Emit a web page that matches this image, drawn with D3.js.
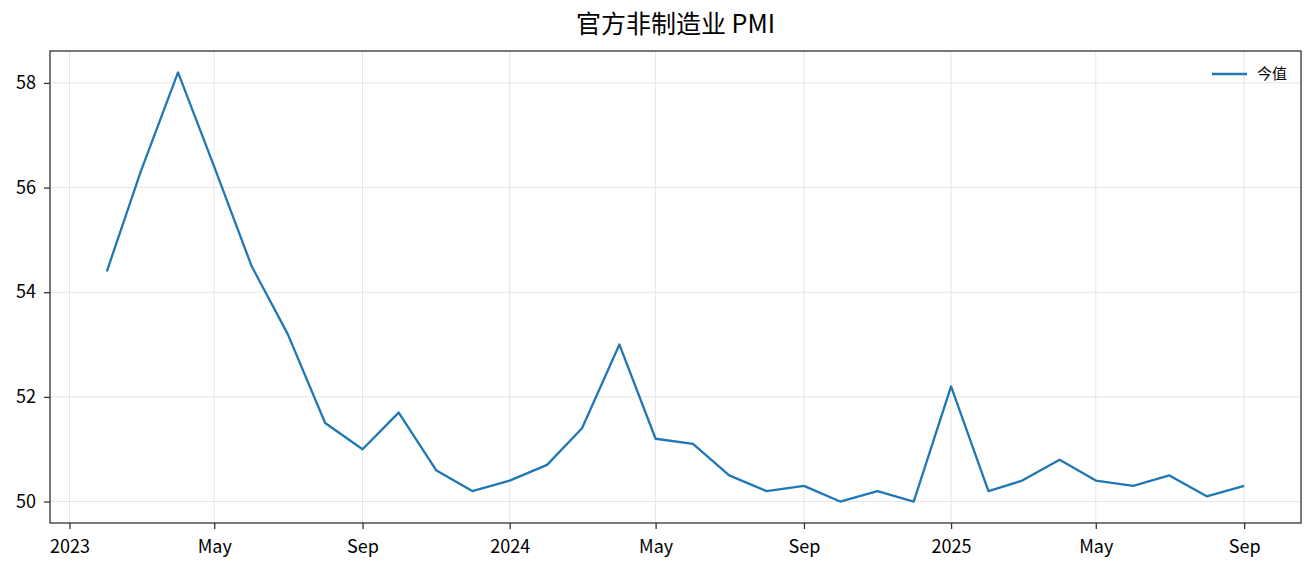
<!DOCTYPE html>
<html lang="zh">
  <head>
    <meta charset="utf-8">
    <title>官方非制造业 PMI</title>
    <script src="https://d3js.org/d3.v7.min.js"></script>
    <style>
      html, body { margin: 0; padding: 0; background: #fff; overflow: hidden; }
      svg { display: block; }
      text { font-family: "Noto Sans CJK SC", "Noto Sans", sans-serif; fill: #000; }
    </style>
  </head>
  <body>
    <script type="text/javascript">
      var w = 1315;
      var h = 573;
      var margin = {top: 51, right: 14, bottom: 50, left: 50};
      var innerWidth = w - margin.left - margin.right;
      var innerHeight = h - margin.top - margin.bottom;

      // release dates (1st of month) and values
      var months = ["2023-02","2023-03","2023-04","2023-05","2023-06","2023-07","2023-08","2023-09",
                    "2023-10","2023-11","2023-12","2024-01","2024-02","2024-03","2024-04","2024-05",
                    "2024-06","2024-07","2024-08","2024-09","2024-10","2024-11","2024-12","2025-01",
                    "2025-02","2025-03","2025-04","2025-05","2025-06","2025-07","2025-08","2025-09"];
      var values = [54.4, 56.3, 58.2, 56.4, 54.5, 53.2, 51.5, 51.0,
                    51.7, 50.6, 50.2, 50.4, 50.7, 51.4, 53.0, 51.2,
                    51.1, 50.5, 50.2, 50.3, 50.0, 50.2, 50.0, 52.2,
                    50.2, 50.4, 50.8, 50.4, 50.3, 50.5, 50.1, 50.3];
      var yTicks = [50, 52, 54, 56, 58];
      var xTicks = ["2023-01","2023-05","2023-09","2024-01","2024-05","2024-09","2025-01","2025-05","2025-09"];
      var xTickLabels = ["2023","May","Sep","2024","May","Sep","2025","May","Sep"];
      var seriesName = "今值";
      var title = "官方非制造业 PMI";

      var parse = d3.timeParse("%Y-%m");
      var data = months.map(function(m, i) { return {date: parse(m), value: values[i]}; });

      var xExt = d3.extent(data, function(d) { return d.date; });
      var xPad = (xExt[1] - xExt[0]) * 0.05;
      var xScale = d3.scaleTime()
          .domain([new Date(+xExt[0] - xPad), new Date(+xExt[1] + xPad)])
          .range([0, innerWidth]);
      var yExt = d3.extent(values);
      var yPad = (yExt[1] - yExt[0]) * 0.05;
      var yScale = d3.scaleLinear()
          .domain([yExt[0] - yPad, yExt[1] + yPad])
          .range([innerHeight, 0]);

      var svg = d3.select("body").append("svg")
          .attr("width", w)
          .attr("height", h);

      var g = svg.append("g")
          .attr("transform", `translate(${margin.left},${margin.top})`);

      // grid
      g.selectAll(".vgrid").data(xTicks).enter().append("line")
          .attr("x1", function(d) { return xScale(parse(d)); })
          .attr("x2", function(d) { return xScale(parse(d)); })
          .attr("y1", 0).attr("y2", innerHeight)
          .attr("stroke", "#e6e6e6").attr("stroke-width", 1);
      g.selectAll(".hgrid").data(yTicks).enter().append("line")
          .attr("x1", 0).attr("x2", innerWidth)
          .attr("y1", function(d) { return yScale(d); })
          .attr("y2", function(d) { return yScale(d); })
          .attr("stroke", "#e6e6e6").attr("stroke-width", 1);

      var line = d3.line()
          .x(function(d) { return xScale(d.date); })
          .y(function(d) { return yScale(d.value); });
      g.append("path").datum(data)
          .attr("d", line)
          .attr("fill", "none")
          .attr("stroke", "#1f77b4")
          .attr("stroke-width", 2.3)
          .attr("stroke-linejoin", "round");

      var xAxis = d3.axisBottom(xScale)
          .tickValues(xTicks.map(parse))
          .tickSize(6).tickPadding(11)
          .tickFormat(function(d, i) { return xTickLabels[i]; });
      var yAxis = d3.axisLeft(yScale)
          .tickValues(yTicks)
          .tickSize(6).tickPadding(8)
          .tickFormat(d3.format("d"));

      var gx = g.append("g").attr("transform", `translate(0,${innerHeight})`).call(xAxis);
      var gy = g.append("g").call(yAxis);
      [gx, gy].forEach(function(a) {
        a.select(".domain").remove();
        a.selectAll(".tick line").attr("stroke", "#333").attr("stroke-width", 1.3);
        a.selectAll(".tick text").attr("font-size", 18).attr("fill", "#000")
          .style("font-family", "'Noto Sans CJK SC', sans-serif");
      });

      // frame
      g.append("rect")
          .attr("width", innerWidth).attr("height", innerHeight)
          .attr("fill", "none").attr("stroke", "#333").attr("stroke-width", 1.3);

      // title
      svg.append("text")
          .attr("x", margin.left + innerWidth / 2)
          .attr("y", 33)
          .attr("text-anchor", "middle")
          .attr("font-size", 25)
          .text(title);

      // legend
      var lg = g.append("g").attr("transform", `translate(${innerWidth - 89},${23})`);
      lg.append("line").attr("x1", 0).attr("x2", 35).attr("y1", 0).attr("y2", 0)
          .attr("stroke", "#1f77b4").attr("stroke-width", 2.3);
      lg.append("text").attr("x", 45).attr("y", 0).attr("dy", "0.35em")
          .attr("font-size", 15).text(seriesName);
    </script>
  </body>
</html>
